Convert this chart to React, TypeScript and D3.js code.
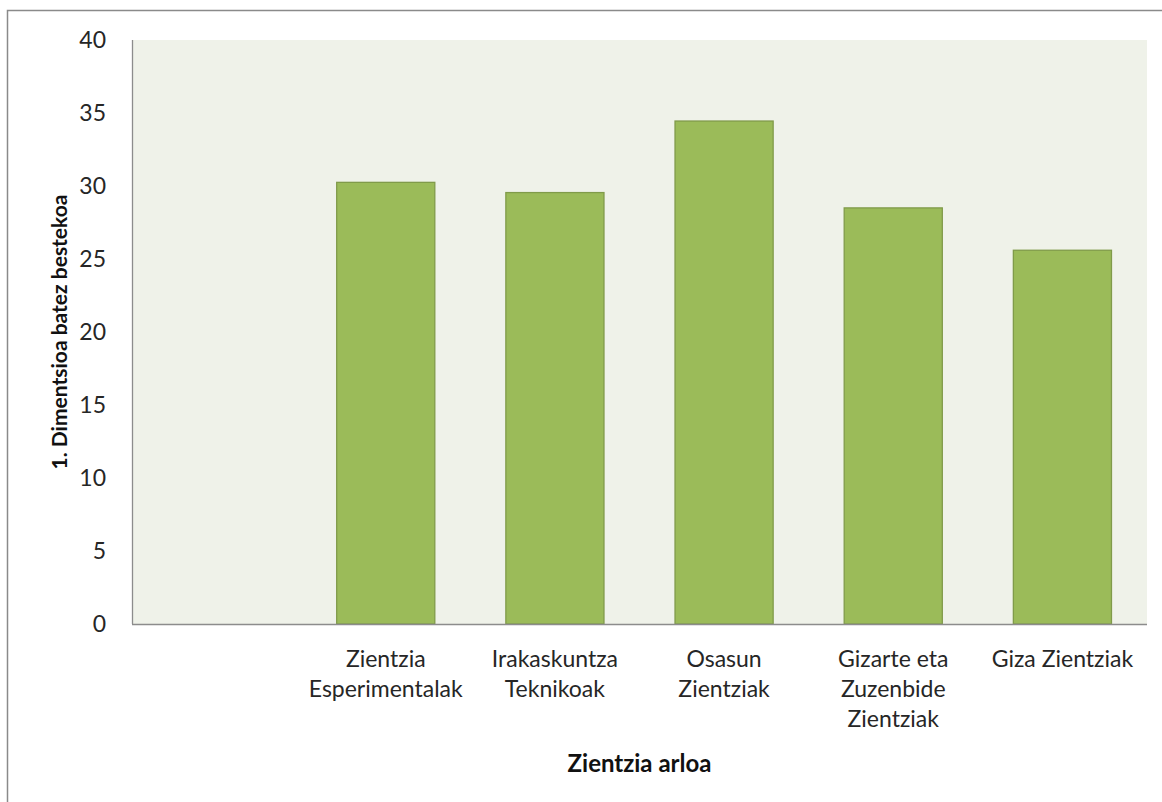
import React from "react";
import * as d3 from "d3";

const categories: string[][] = [
  [""],
  ["Zientzia", "Esperimentalak"],
  ["Irakaskuntza", "Teknikoak"],
  ["Osasun", "Zientziak"],
  ["Gizarte eta", "Zuzenbide", "Zientziak"],
  ["Giza Zientziak"],
];
const values: (number | null)[] = [null, 30.25, 29.55, 34.45, 28.5, 25.6];
const yTicks: number[] = [0, 5, 10, 15, 20, 25, 30, 35, 40];
const yTitle = "1. Dimentsioa batez bestekoa";
const xTitle = "Zientzia arloa";

const W = 1162;
const H = 802;
const plot = { left: 132, right: 1147, top: 40, bottom: 624 };
const FONT = "Lato, 'Open Sans', sans-serif";

export default function App() {
  const x = d3
    .scaleBand<number>()
    .domain(categories.map((_, i) => i))
    .range([plot.left, plot.right])
    .paddingInner(0.42)
    .paddingOuter(0.21);
  const y = d3.scaleLinear().domain([0, 40]).range([plot.bottom, plot.top]);

  return (
    <>
      <style>{`body{margin:0}`}</style>
      <svg width={W} height={H} style={{ display: "block", background: "#fff" }} fontFamily={FONT}>
        <rect x={7.5} y={10.5} width={1300} height={900} fill="#fff" stroke="#8a8a8a" strokeWidth={1.5} />
        <rect
          x={plot.left}
          y={plot.top}
          width={plot.right - plot.left}
          height={plot.bottom - plot.top}
          fill="#EFF2E9"
        />
        {values.map((v, i) =>
          v == null ? null : (
            <rect
              key={i}
              x={x(i)!}
              y={y(v)}
              width={x.bandwidth()}
              height={y(0) - y(v)}
              fill="#9BBB59"
              stroke="#809B4A"
              strokeWidth={1.3}
            />
          )
        )}
        <line x1={plot.left + 0.5} x2={plot.left + 0.5} y1={plot.top} y2={plot.bottom} stroke="#8c8c8c" strokeWidth={1.3} />
        <line x1={plot.left} x2={plot.right} y1={plot.bottom + 0.5} y2={plot.bottom + 0.5} stroke="#8c8c8c" strokeWidth={1.3} />
        {yTicks.map((t) => (
          <text key={t} x={106} y={y(t)} dy="0.36em" textAnchor="end" fontSize={23} fill="#262626">
            {t}
          </text>
        ))}
        {categories.map((lines, i) => (
          <text key={i} textAnchor="middle" fontSize={23} fill="#262626">
            {lines.map((ln, j) => (
              <tspan key={j} x={x(i)! + x.bandwidth() / 2} y={667 + j * 30}>
                {ln}
              </tspan>
            ))}
          </text>
        ))}
        <text
          transform={`translate(67, ${(plot.top + plot.bottom) / 2}) rotate(-90)`}
          textAnchor="middle"
          fontSize={21}
          fontWeight="bold"
          fill="#111"
        >
          {yTitle}
        </text>
        <text x={(plot.left + plot.right) / 2} y={772} textAnchor="middle" fontSize={24} fontWeight="bold" fill="#111">
          {xTitle}
        </text>
      </svg>
    </>
  );
}
